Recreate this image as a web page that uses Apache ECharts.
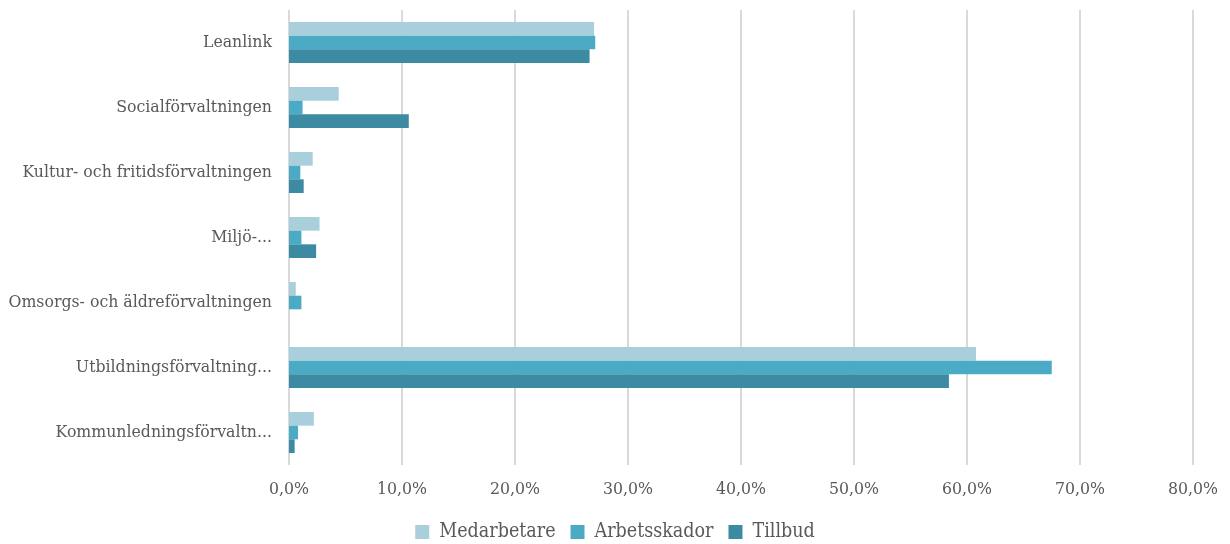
<!DOCTYPE html>
<html>
<head>
  <meta charset="utf-8">
  <title>Andel per förvaltning</title>
  <script src="https://cdn.jsdelivr.net/npm/echarts@6/dist/echarts.min.js"></script>
  <style>
    html, body { margin: 0; padding: 0; background: #fff; }
    #chart { width: 1230px; height: 544px; }
  </style>
</head>
<body>
<div id="chart"></div>
<script>
  var categories = ['Leanlink', 'Socialförvaltningen', 'Kultur- och fritidsförvaltningen', 'Miljö-...',
    'Omsorgs- och äldreförvaltningen', 'Utbildningsförvaltning...', 'Kommunledningsförvaltn...'];
  var medarbetare = [27.0, 4.4, 2.1, 2.7, 0.6, 60.8, 2.2];
  var arbetsskador = [27.1, 1.2, 1.0, 1.1, 1.1, 67.5, 0.8];
  var tillbud = [26.6, 10.6, 1.3, 2.4, 0, 58.4, 0.5];
  var xTicks = [0, 10, 20, 30, 40, 50, 60, 70, 80];

  var font = 'DejaVu Serif Condensed';
  var chart = echarts.init(document.getElementById('chart'));

  function bar(name, data, color) {
    return {
      name: name,
      type: 'bar',
      data: data,
      barGap: '0%',
      barCategoryGap: '37%',
      itemStyle: {color: color}
    };
  }

  chart.setOption({
    animation: false,
    textStyle: {fontFamily: font},
    grid: {left: 289, right: 37, top: 10, bottom: 79, containLabel: false},
    legend: {
      top: 517,
      left: 'center',
      itemWidth: 14,
      itemHeight: 14,
      itemGap: 15,
      icon: 'rect',
      textStyle: {fontFamily: font, fontSize: 19.5, color: '#595959', padding: [0, 0, 0, 5]},
      data: ['Medarbetare', 'Arbetsskador', 'Tillbud']
    },
    xAxis: {
      type: 'value',
      min: xTicks[0],
      max: xTicks[xTicks.length - 1],
      interval: 10,
      axisLine: {show: false},
      axisTick: {show: false},
      splitLine: {lineStyle: {color: '#d9d9d9', width: 2}},
      axisLabel: {
        fontFamily: font, fontSize: 17.5, color: '#595959', margin: 15,
        formatter: function (v) { return v.toFixed(1).replace('.', ',') + '%'; }
      }
    },
    yAxis: {
      type: 'category',
      inverse: true,
      data: categories,
      axisLine: {show: false},
      axisTick: {show: false},
      axisLabel: {fontFamily: font, fontSize: 17.5, color: '#595959', margin: 17}
    },
    series: [
      bar('Medarbetare', medarbetare, '#a9cfdc'),
      bar('Arbetsskador', arbetsskador, '#4babc5'),
      bar('Tillbud', tillbud, '#3c8ba3')
    ]
  });
</script>
</body>
</html>
